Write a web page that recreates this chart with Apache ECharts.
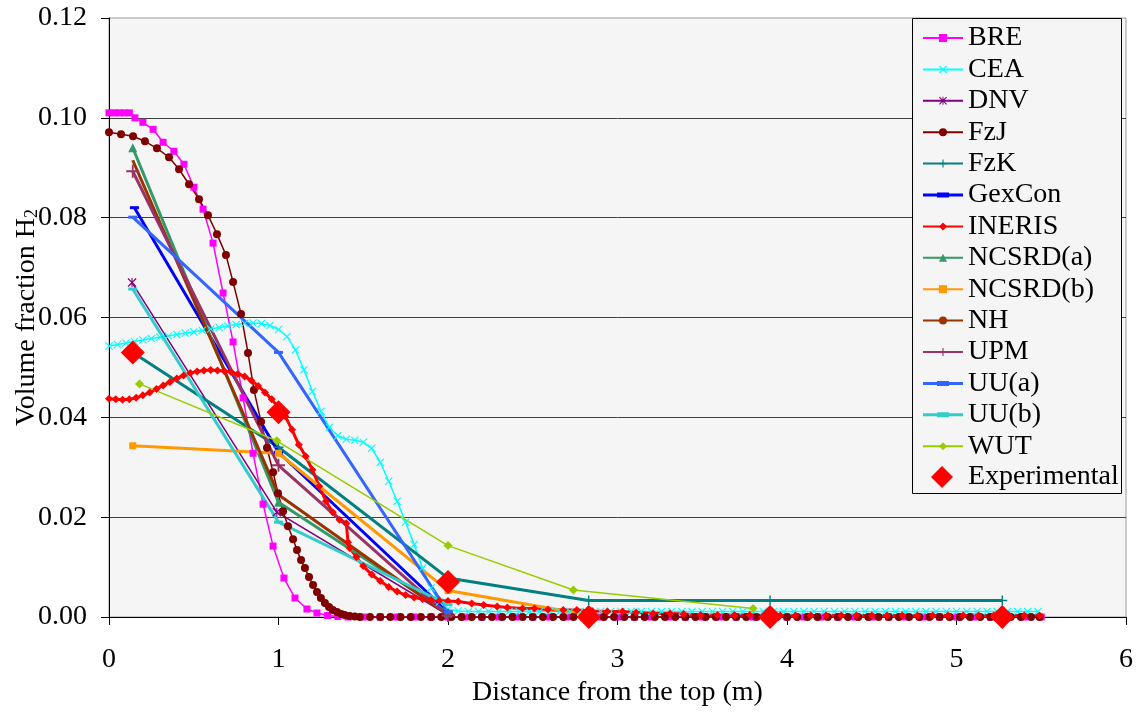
<!DOCTYPE html>
<html><head><meta charset="utf-8">
<script src="https://cdn.jsdelivr.net/npm/echarts@6/dist/echarts.min.js"></script>
<style>html,body{margin:0;padding:0;background:#fff}#c{width:1138px;height:715px}</style>
</head><body><div id="c"></div><script>
// ---------- data (x = distance from top in m, y = H2 volume fraction) ----------
const xTicks = [0, 1, 2, 3, 4, 5, 6];
const yTicks = [0, 0.02, 0.04, 0.06, 0.08, 0.10, 0.12];
const seriesNames = ['BRE','CEA','DNV','FzJ','FzK','GexCon','INERIS','NCSRD(a)','NCSRD(b)','NH','UPM','UU(a)','UU(b)','WUT','Experimental'];

const BRE = [[0,0.101],[0.03,0.101],[0.06,0.101],[0.09,0.101],[0.12,0.101],[0.153,0.1],[0.2,0.0991],[0.26,0.0977],[0.319,0.0951],[0.383,0.0933],[0.442,0.0907],[0.501,0.0861],[0.555,0.0817],[0.614,0.0749],[0.673,0.0649],[0.732,0.0551],[0.791,0.0439],[0.85,0.0328],[0.909,0.0226],[0.968,0.0142],[1.032,0.0078],[1.097,0.0038],[1.168,0.0016],[1.227,0.0008],[1.29,0.0003],[1.35,0.0001],[1.41,0],[1.5,0],[1.6,0],[1.7,0],[1.8,0],[1.9,0],[2,0],[2.1,0],[2.2,0],[2.3,0],[2.4,0],[2.5,0],[2.6,0],[2.7,0],[2.8,0],[2.9,0],[3,0],[3.1,0],[3.2,0],[3.3,0],[3.4,0],[3.5,0],[3.6,0],[3.7,0],[3.8,0],[3.9,0],[4,0],[4.1,0],[4.2,0],[4.3,0],[4.4,0],[4.5,0],[4.6,0],[4.7,0],[4.8,0],[4.9,0],[5,0],[5.1,0],[5.2,0],[5.3,0],[5.4,0],[5.5,0]];

const CEA = [[0,0.0543],[0.05,0.0546],[0.1,0.0549],[0.15,0.0552],[0.2,0.0555],[0.25,0.0558],[0.3,0.0561],[0.35,0.0563],[0.4,0.0566],[0.45,0.0569],[0.5,0.0571],[0.55,0.0574],[0.6,0.0577],[0.65,0.058],[0.7,0.0583],[0.75,0.0586],[0.8,0.0588],[0.85,0.0589],[0.9,0.0588],[0.95,0.0584],[1.0,0.0576],[1.05,0.0562],[1.1,0.0535],[1.15,0.0495],[1.2,0.0452],[1.25,0.0412],[1.3,0.038],[1.35,0.0363],[1.4,0.0356],[1.45,0.0354],[1.5,0.035],[1.55,0.0338],[1.6,0.031],[1.65,0.0272],[1.7,0.0232],[1.75,0.019],[1.8,0.0145],[1.85,0.0098],[1.9,0.0058],[1.95,0.003],[2.0,0.0016],[2.06,0.0012],[2.12,0.0011],[2.18,0.0011],[2.24,0.0011],[2.3,0.0011],[2.36,0.0011],[2.42,0.0011],[2.48,0.0011],[2.54,0.0011],[2.6,0.0011],[2.66,0.0011],[2.72,0.0011],[2.78,0.0011],[2.84,0.0011],[2.9,0.0011],[2.96,0.0011],[3.02,0.0011],[3.08,0.0011],[3.14,0.0011],[3.2,0.0011],[3.26,0.0011],[3.32,0.0011],[3.38,0.0011],[3.44,0.0011],[3.5,0.0011],[3.56,0.0011],[3.62,0.0011],[3.68,0.0011],[3.74,0.0011],[3.8,0.0011],[3.86,0.0011],[3.92,0.0011],[3.98,0.0011],[4.04,0.0011],[4.1,0.0011],[4.16,0.0011],[4.22,0.0011],[4.28,0.0011],[4.34,0.0011],[4.4,0.0011],[4.46,0.0011],[4.52,0.0011],[4.58,0.0011],[4.64,0.0011],[4.7,0.0011],[4.76,0.0011],[4.82,0.0011],[4.88,0.0011],[4.94,0.0011],[5.0,0.0011],[5.06,0.0011],[5.12,0.0011],[5.18,0.0011],[5.24,0.0011],[5.3,0.0011],[5.36,0.0011],[5.42,0.0011],[5.48,0.0011]];

const DNV = [[0.136,0.067],[0.99,0.021],[2.0,0.0004]];

const FzJ = [[0,0.0971],[0.071,0.0967],[0.142,0.0963],[0.212,0.0953],[0.283,0.0939],[0.354,0.0921],[0.413,0.0897],[0.472,0.0867],[0.531,0.0837],[0.584,0.0805],[0.637,0.0767],[0.69,0.0725],[0.732,0.0671],[0.779,0.0607],[0.82,0.0529],[0.855,0.0455],[0.897,0.0391],[0.932,0.0339],[0.968,0.029],[0.997,0.0248],[1.027,0.0212],[1.056,0.0182],[1.086,0.0156],[1.109,0.0134],[1.133,0.0114],[1.156,0.0098],[1.18,0.008],[1.204,0.0064],[1.227,0.005],[1.25,0.0038],[1.274,0.0028],[1.298,0.002],[1.32,0.0014],[1.345,0.001],[1.37,0.0006],[1.39,0.0004],[1.42,0.0002],[1.45,0.0001],[1.48,0],[1.54,0],[1.6,0],[1.66,0],[1.72,0],[1.78,0],[1.84,0],[1.9,0],[1.96,0],[2.02,0],[2.08,0],[2.14,0],[2.2,0],[2.26,0],[2.32,0],[2.38,0],[2.44,0],[2.5,0],[2.56,0],[2.62,0],[2.68,0],[2.74,0],[2.8,0],[2.86,0],[2.92,0],[2.98,0],[3.04,0],[3.1,0],[3.16,0],[3.22,0],[3.28,0],[3.34,0],[3.4,0],[3.46,0],[3.52,0],[3.58,0],[3.64,0],[3.7,0],[3.76,0],[3.82,0],[3.88,0],[3.94,0],[4.0,0],[4.06,0],[4.12,0],[4.18,0],[4.24,0],[4.3,0],[4.36,0],[4.42,0],[4.48,0],[4.54,0],[4.6,0],[4.66,0],[4.72,0],[4.78,0],[4.84,0],[4.9,0],[4.96,0],[5.02,0],[5.08,0],[5.14,0],[5.2,0],[5.26,0],[5.32,0],[5.38,0],[5.44,0],[5.49,0]];

const FzK = [[0.14,0.053],[1.0,0.034],[2.0,0.0078],[2.83,0.0033],[3.9,0.0033],[5.27,0.0033]];
const GexCon = [[0.15,0.082],[1.0,0.033],[2.0,0.001]];

const INERIS = [[0,0.0437],[0.04,0.0436],[0.08,0.0435],[0.12,0.0436],[0.16,0.0439],[0.2,0.0444],[0.24,0.045],[0.28,0.0457],[0.32,0.0464],[0.36,0.0471],[0.4,0.0478],[0.44,0.0484],[0.48,0.0489],[0.52,0.0492],[0.56,0.0494],[0.6,0.0495],[0.64,0.0494],[0.68,0.0493],[0.72,0.0491],[0.76,0.0487],[0.8,0.0482],[0.84,0.0474],[0.88,0.0463],[0.92,0.045],[0.96,0.0436],[1.0,0.042],[1.04,0.0402],[1.08,0.0375],[1.12,0.0345],[1.16,0.0322],[1.2,0.0295],[1.24,0.0262],[1.28,0.0232],[1.32,0.021],[1.36,0.0195],[1.4,0.0188],[1.41,0.015],[1.42,0.0138],[1.46,0.012],[1.5,0.0102],[1.55,0.0085],[1.6,0.0072],[1.65,0.006],[1.7,0.0051],[1.75,0.0044],[1.8,0.0039],[1.85,0.0036],[1.9,0.0034],[1.95,0.0033],[2.0,0.0032],[2.06,0.0031],[2.14,0.0027],[2.21,0.0024],[2.29,0.0021],[2.35,0.0019],[2.44,0.0017],[2.51,0.0017],[2.59,0.0015],[2.68,0.0014],[2.76,0.0014],[2.85,0.0012],[2.94,0.0011],[3.03,0.0011],[3.11,0.0009],[3.21,0.0007],[3.31,0.0007],[3.39,0.0006],[3.49,0.0004],[3.59,0.0004],[3.69,0.0004],[3.78,0.0004],[3.87,0.0003],[3.96,0.0003],[4.05,0.0003],[4.14,0.0003],[4.23,0.0003],[4.32,0.0003],[4.41,0.0003],[4.5,0.0003],[4.59,0.0003],[4.68,0.0003],[4.77,0.0003],[4.86,0.0003],[4.95,0.0003],[5.04,0.0003],[5.13,0.0003],[5.22,0.0003],[5.31,0.0003],[5.4,0.0003],[5.49,0.0003]];

const NCSRD_a = [[0.14,0.094],[1.0,0.023],[2.0,0.0008]];
const NCSRD_b = [[0.14,0.0343],[1.0,0.0328],[2.0,0.0053],[2.83,0.0004]];
const NH = [[0.14,0.0915],[1.0,0.0245],[2.0,0.0004]];
const UPM = [[0.14,0.0893],[1.0,0.0304],[2.0,0.0003]];
const UU_a = [[0.14,0.0801],[1.0,0.053],[2.0,0.001]];
const UU_b = [[0.14,0.0657],[1.0,0.019],[2.0,0.0025]];
const WUT = [[0.18,0.0467],[0.99,0.0353],[2.0,0.0143],[2.74,0.0054],[3.8,0.0017]];
const Experimental = [[0.14,0.053],[1.0,0.041],[2.0,0.007],[2.83,0],[3.9,0],[5.27,0]];

// ---------- styles ----------
const FONT = 'Liberation Serif, "Times New Roman", serif';
const P_X = 'path://M0,1L1,0L5,4L9,0L10,1L6,5L10,9L9,10L5,6L1,10L0,9L4,5Z';
const P_PLUS = 'path://M4.3,0H5.7V4.3H10V5.7H5.7V10H4.3V5.7H0V4.3H4.3Z';
const P_AST = 'path://M0,1L1,0L5,4L9,0L10,1L6,5L10,9L9,10L5,6L1,10L0,9L4,5ZM4.4,0H5.6V10H4.4Z';
const P_DASH = 'path://M0,0H10V3H0Z';
const LEG_DASH = 'path://M0,1H40V4H0ZM14,0H26V5H14Z';

const styles = [
  {data: BRE, color:'#ff00ff', w:1.5, sym:'rect', size:7},
  {data: CEA, color:'#00ffff', w:1.5, sym:P_X, size:8},
  {data: DNV, color:'#800080', w:1.5, sym:P_AST, size:9},
  {data: FzJ, color:'#800000', w:1.5, sym:'circle', size:8},
  {data: FzK, color:'#008080', w:3, sym:P_PLUS, size:10},
  {data: GexCon, color:'#0000ff', w:3, sym:P_DASH, size:[9,3], leg:LEG_DASH},
  {data: INERIS, color:'#ff0000', w:3, sym:'diamond', size:8},
  {data: NCSRD_a, color:'#339966', w:3, sym:'triangle', size:9},
  {data: NCSRD_b, color:'#ff9900', w:3, sym:'rect', size:7},
  {data: NH, color:'#993300', w:3, sym:'none', size:0},
  {data: UPM, color:'#993366', w:3, sym:P_PLUS, size:13},
  {data: UU_a, color:'#3366ff', w:3, sym:P_DASH, size:[9,3], leg:LEG_DASH},
  {data: UU_b, color:'#33cccc', w:3, sym:P_DASH, size:[9,3], leg:LEG_DASH},
  {data: WUT, color:'#99cc00', w:1.5, sym:'diamond', size:9}
];

const series = styles.map((s, i) => ({
  type: 'line', name: seriesNames[i], data: s.data, clip: false, z: 2,
  symbol: s.sym, symbolSize: s.size, showSymbol: s.sym !== 'none',
  lineStyle: {color: s.color, width: s.w},
  itemStyle: {color: s.color},
  emphasis: {disabled: true}, animation: false
}));
series.push({
  type: 'scatter', name: 'Experimental', data: Experimental, clip: false, z: 6,
  symbol: 'diamond', symbolSize: 24, itemStyle: {color: '#ff0000', opacity: 1},
  emphasis: {disabled: true}, animation: false
});

const legendData = styles.map((s, i) => s.leg ? {name: seriesNames[i], icon: s.leg} : {name: seriesNames[i]});

const chart = echarts.init(document.getElementById('c'));
chart.setOption({
  animation: false,
  backgroundColor: '#ffffff',
  grid: {left: 109, right: 12, top: 18, bottom: 98, outerBoundsMode: 'none', containLabel: false,
         show: true, backgroundColor: '#f5f5f5', borderColor: '#9a9a9a', borderWidth: 1},
  xAxis: {
    type: 'value', min: xTicks[0], max: xTicks[xTicks.length-1], interval: 1,
    axisLine: {show: true, onZero: false, lineStyle: {color: '#000', width: 1}},
    axisTick: {show: true, inside: false, length: 8, lineStyle: {color: '#000'}},
    axisLabel: {fontFamily: FONT, fontSize: 28, color: '#000', margin: 29},
    splitLine: {show: false},
    name: 'Distance from the top (m)', nameLocation: 'middle', nameGap: 60,
    nameTextStyle: {fontFamily: FONT, fontSize: 28, color: '#000'}
  },
  yAxis: {
    type: 'value', min: yTicks[0], max: yTicks[yTicks.length-1], interval: 0.02,
    axisLine: {show: true, onZero: false, lineStyle: {color: '#000', width: 1}},
    axisTick: {show: true, inside: false, length: 8, lineStyle: {color: '#000'}},
    axisLabel: {fontFamily: FONT, fontSize: 28, color: '#000', margin: 22, formatter: v => v.toFixed(2)},
    splitLine: {show: true, showMaxLine: false, lineStyle: {color: '#404040', width: 1}},
    name: '{a|Volume fraction H}{b|2}', nameLocation: 'middle', nameGap: 68, nameRotate: 90,
    nameMoveOverlap: false,
    nameTextStyle: {fontFamily: FONT, fontSize: 28, color: '#000',
      rich: {a: {fontFamily: FONT, fontSize: 28, lineHeight: 28, color: '#000'},
             b: {fontFamily: FONT, fontSize: 18, lineHeight: 10, verticalAlign: 'bottom', color: '#000'}}}
  },
  graphic: {elements: [{type: 'rect', z: 10, shape: {x: 912.5, y: 18.5, width: 209, height: 475}, style: {fill: '#f5f5f5', stroke: '#000', lineWidth: 1}}]},
  legend: [
    {orient: 'vertical', left: 922, top: 24, padding: 0, itemWidth: 40, itemHeight: 10, itemGap: 3.4, z: 20,
     selectedMode: false, data: legendData,
     textStyle: {fontFamily: FONT, fontSize: 28, lineHeight: 28, color: '#000'}},
    {orient: 'vertical', left: 931, top: 463, padding: 0, itemWidth: 22, itemHeight: 22, z: 20,
     selectedMode: false, data: ['Experimental'],
     textStyle: {fontFamily: FONT, fontSize: 28, lineHeight: 28, color: '#000', padding: [0, 0, 0, 10]}}
  ],
  series: series
});
</script></body></html>
